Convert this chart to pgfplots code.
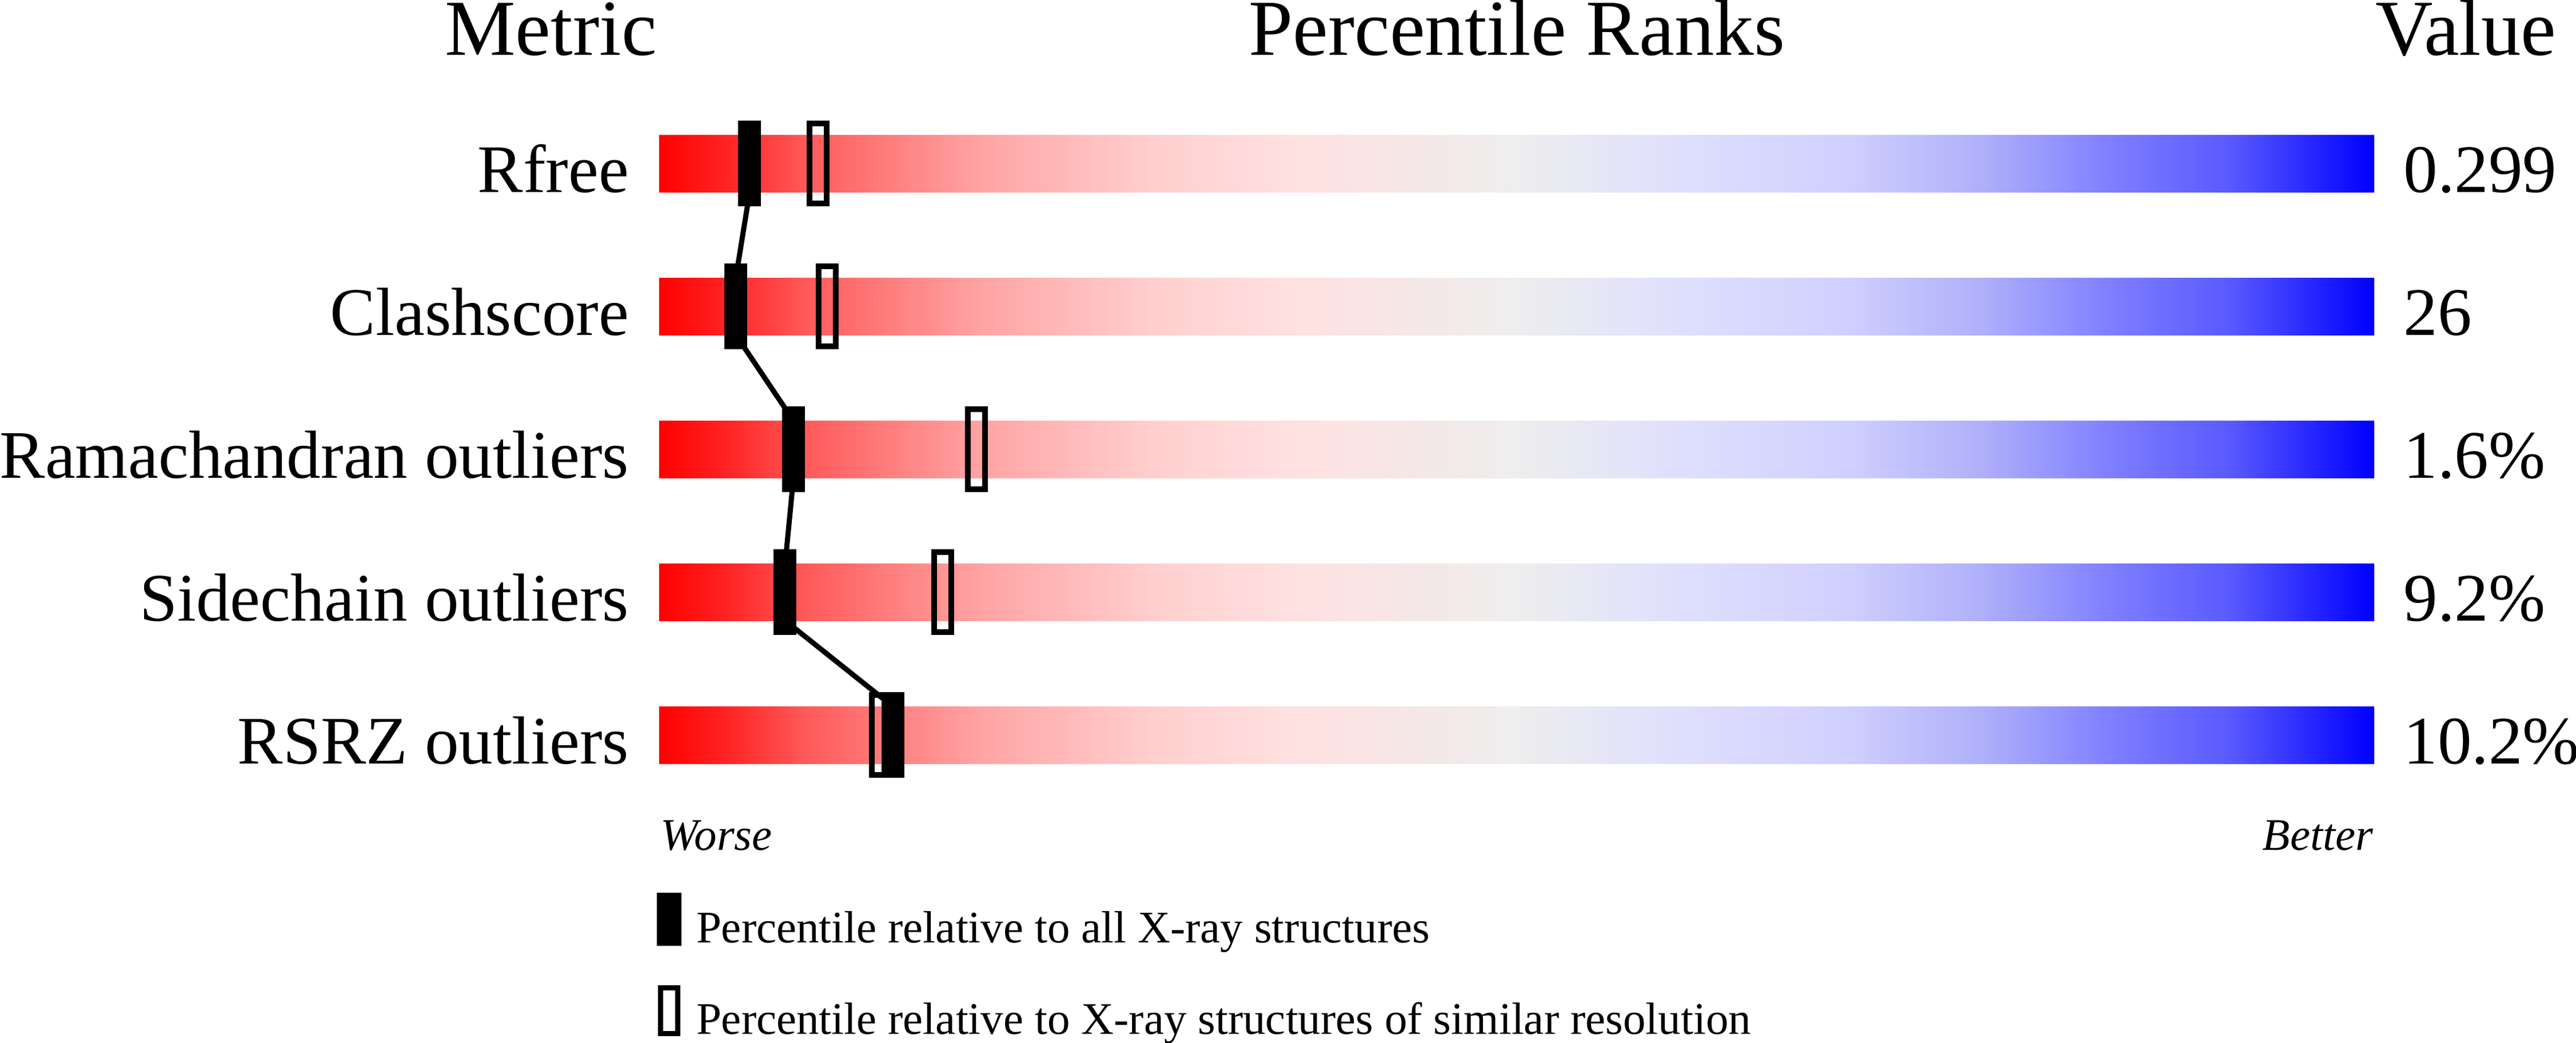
\documentclass[border=0pt]{standalone}
\usepackage{pgfplots}
\pgfplotsset{compat=1.18}
\usepackage{fontspec}
\setmainfont{Liberation Serif}

\newcommand{\hdr}{\fontsize{13.9pt}{16pt}\selectfont}
\newcommand{\lab}{\fontsize{11.9pt}{14pt}\selectfont}
\newcommand{\sml}{\fontsize{7.9pt}{9.5pt}\selectfont}

% slider gradient: visible part mapped to 25bp..75bp (bp = 25 + percent/2)
\pgfdeclarehorizontalshading{slider}{100bp}{%
  rgb(0bp)=(1,0,0);
  rgb(25bp)=(1,0,0);
  rgb(27bp)=(1,0.141,0.141);
  rgb(29.25bp)=(1,0.349,0.349);
  rgb(32bp)=(1,0.51,0.51);
  rgb(34.5bp)=(1,0.647,0.647);
  rgb(39.35bp)=(1,0.808,0.808);
  rgb(43.35bp)=(1,0.878,0.878);
  rgb(47.3bp)=(0.961,0.91,0.91);
  rgb(50bp)=(0.933,0.933,0.933);
  rgb(54.45bp)=(0.878,0.878,0.992);
  rgb(59.5bp)=(0.816,0.816,1);
  rgb(63.5bp)=(0.69,0.69,0.98);
  rgb(66bp)=(0.565,0.565,1);
  rgb(67.5bp)=(0.486,0.486,1);
  rgb(70.75bp)=(0.353,0.353,1);
  rgb(73bp)=(0.165,0.165,1);
  rgb(75bp)=(0,0,1);
  rgb(100bp)=(0,0,1)}

\pgfdeclareplotmark{fbox}{%
  \pgfpathrectangle{\pgfqpoint{-2pt}{-7.5pt}}{\pgfqpoint{4pt}{15pt}}%
  \pgfusepath{fill}}
\pgfdeclareplotmark{obox}{%
  \pgfpathrectangle{\pgfqpoint{-1.5pt}{-7pt}}{\pgfqpoint{3pt}{14pt}}%
  \pgfusepath{stroke}}

\pgfplotstableread{
p      row
5.28   1
4.47   2
7.83   3
7.35   4
13.62  5
}\allxray
\pgfplotstableread{
p      row
9.27   1
9.80   2
18.50  3
16.55  4
12.90  5
}\simres

\begin{document}
\begin{tikzpicture}
\useasboundingbox (0,0) rectangle (450.6pt,182.4pt);
\begin{axis}[
  at={(115.3pt,28.8pt)}, anchor=south west,
  scale only axis, width=300pt, height=150pt,
  xmin=0, xmax=100, ymin=0, ymax=6, y dir=reverse,
  enlargelimits=false, clip=false, hide axis,
  reverse legend,
  legend cell align=left,
  legend style={draw=none, fill=none, inner sep=0pt, outer sep=0pt,
    at={(axis cs:-0.133,6.104)}, anchor=north west,
    row sep=6.9pt, column sep=2.6pt,
    nodes={inner sep=0pt, text height=8.5pt, text depth=0.4pt, font=\sml}},
]
% gradient bars
\addplot[draw=none, shade, shading=slider, forget plot] coordinates {(0,0.8) (100,0.8) (100,1.2) (0,1.2)} --cycle;
\addplot[draw=none, shade, shading=slider, forget plot] coordinates {(0,1.8) (100,1.8) (100,2.2) (0,2.2)} --cycle;
\addplot[draw=none, shade, shading=slider, forget plot] coordinates {(0,2.8) (100,2.8) (100,3.2) (0,3.2)} --cycle;
\addplot[draw=none, shade, shading=slider, forget plot] coordinates {(0,3.8) (100,3.8) (100,4.2) (0,4.2)} --cycle;
\addplot[draw=none, shade, shading=slider, forget plot] coordinates {(0,4.8) (100,4.8) (100,5.2) (0,5.2)} --cycle;
% connecting line
\addplot[black, line width=0.9pt, mark=none, forget plot] coordinates {
  (5.28,1) (5.28,1.2) (4.47,1.8) (4.47,2.2) (7.83,2.8) (7.83,3.2)
  (7.35,3.8) (7.35,4.2) (13.62,4.8) (13.62,5)};
% similar resolution (open)
\addplot[black, only marks, mark=obox, mark options={line width=1pt},
  legend image code/.code={\draw[black, line width=0.9pt] (0.45pt,-4pt) rectangle (3.45pt,4pt);}]
  table[x=p, y=row] {\simres};
\addlegendentry{Percentile relative to X-ray structures of similar resolution}
% all X-ray (filled)
\addplot[black, only marks, mark=fbox, mark options={fill=black},
  legend image code/.code={\fill[black] (0pt,-4.45pt) rectangle (3.9pt,4.45pt);}]
  table[x=p, y=row] {\allxray};
\addlegendentry{Percentile relative to all X-ray structures}

% headers
\node[anchor=base east, inner sep=0pt, font=\hdr] at (axis cs:-0.07,0.24) {Metric};
\node[anchor=base, inner sep=0pt, font=\hdr] at (axis cs:50,0.24) {Percentile Ranks};
\node[anchor=base west, inner sep=0pt, font=\hdr] at (axis cs:100,0.24) {Value};
% metric labels
\node[anchor=base east, inner sep=0pt, font=\lab] at (axis cs:-1.7,1.2) {Rfree};
\node[anchor=base east, inner sep=0pt, font=\lab] at (axis cs:-1.7,2.2) {Clashscore};
\node[anchor=base east, inner sep=0pt, font=\lab] at (axis cs:-1.7,3.2) {Ramachandran outliers};
\node[anchor=base east, inner sep=0pt, font=\lab] at (axis cs:-1.7,4.2) {Sidechain outliers};
\node[anchor=base east, inner sep=0pt, font=\lab] at (axis cs:-1.7,5.2) {RSRZ outliers};
% values
\node[anchor=base west, inner sep=0pt, font=\lab] at (axis cs:101.65,1.2) {0.299};
\node[anchor=base west, inner sep=0pt, font=\lab] at (axis cs:101.65,2.2) {26};
\node[anchor=base west, inner sep=0pt, font=\lab] at (axis cs:101.65,3.2) {1.6\%};
\node[anchor=base west, inner sep=0pt, font=\lab] at (axis cs:101.65,4.2) {9.2\%};
\node[anchor=base west, inner sep=0pt, font=\lab] at (axis cs:101.65,5.2) {10.2\%};
% worse / better
\node[anchor=base west, inner sep=0pt, font=\sml\itshape] at (axis cs:0.03,5.804) {Worse};
\node[anchor=base east, inner sep=0pt, font=\sml\itshape] at (axis cs:100,5.804) {Better};
\end{axis}
\end{tikzpicture}
\end{document}
